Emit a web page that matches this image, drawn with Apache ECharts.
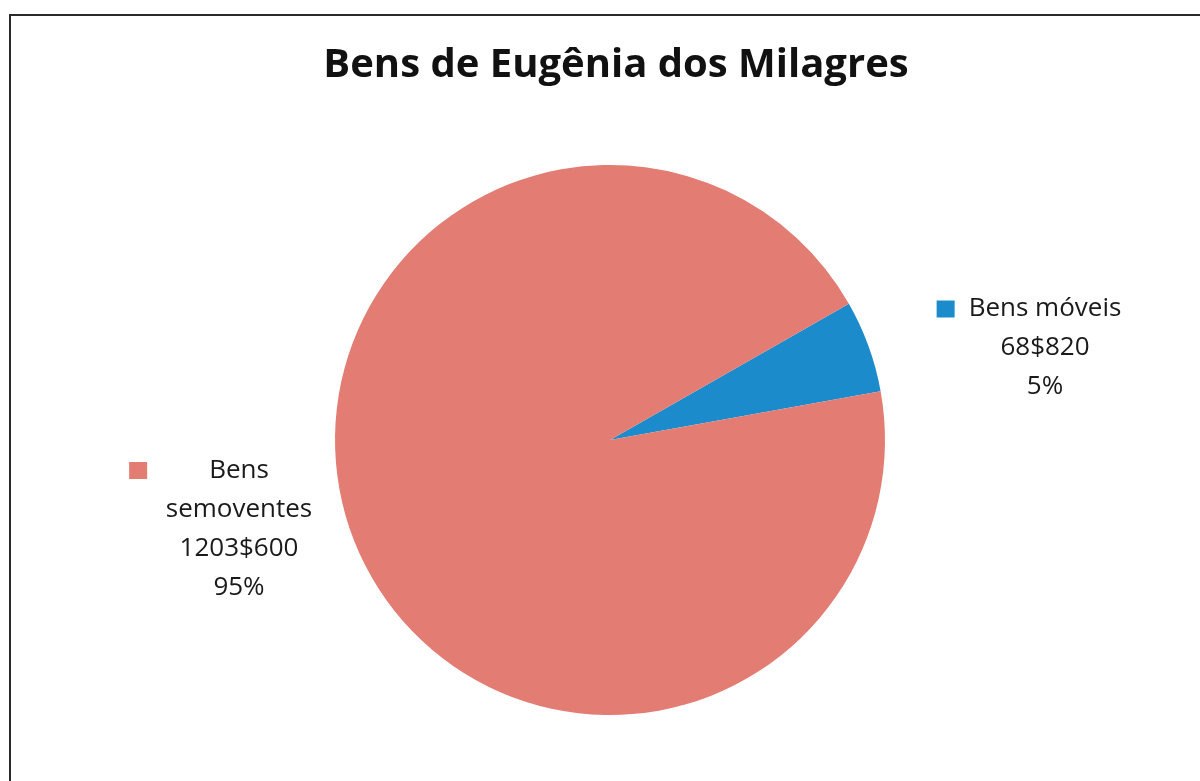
<!DOCTYPE html>
<html>
<head>
<meta charset="utf-8">
<style>
  html, body { margin: 0; padding: 0; background: #ffffff; }
  #chart { width: 1200px; height: 781px; }
</style>
<script src="https://cdn.jsdelivr.net/npm/echarts@6/dist/echarts.min.js"></script>
</head>
<body>
<div id="chart"></div>
<script>
// Asset categories and their values in réis (shown as 68$820 etc.)
const categories = ['Bens móveis', 'Bens semoventes'];
const valuesReis = [68820, 1203600];
const sliceColors = ['#1C8BCB', '#E37C73'];
const chartTitle = 'Bens de Eugênia dos Milagres';

const FONT = '"Open Sans", sans-serif';

// 1203600 -> "1203$600"
function formatReis(v) {
  const mil = Math.floor(v / 1000);
  const rest = String(v % 1000).padStart(3, '0');
  return mil + '$' + rest;
}

const chart = echarts.init(document.getElementById('chart'), null, { renderer: 'canvas' });

const labelRich = {
  t:   { fontFamily: FONT, fontSize: 26, color: '#1a1a1a', lineHeight: 39 },
  sqA: { width: 18, height: 17, backgroundColor: sliceColors[0], verticalAlign: 'middle' },
  sqB: { width: 18, height: 17, backgroundColor: sliceColors[1], verticalAlign: 'middle' },
  g14: { width: 14, lineHeight: 39 },
  p32: { width: 32, lineHeight: 39 },
  g62: { width: 62, lineHeight: 39 },
  p80: { width: 80, lineHeight: 39 }
};

chart.setOption({
  animation: false,
  backgroundColor: '#ffffff',
  title: {
    text: chartTitle,
    left: 611,
    textAlign: 'center',
    top: 41,
    textStyle: { fontFamily: FONT, fontWeight: 'bold', fontSize: 40, color: '#111111' }
  },
  graphic: [{
    type: 'rect',
    shape: { x: 10, y: 15, width: 1196, height: 770 },
    style: { fill: 'none', stroke: '#2a2a2a', lineWidth: 2 },
    silent: true
  }],
  series: [{
    type: 'pie',
    center: [610, 440],
    radius: [0, 275],
    startAngle: 29.7,
    clockwise: true,
    avoidLabelOverlap: false,
    itemStyle: { borderWidth: 0 },
    emphasis: { disabled: true },
    labelLine: { show: false },
    label: {
      show: true,
      position: 'outside',
      align: 'center',
      formatter: function (p) {
        const val = formatReis(p.value);
        const pct = Math.round(p.percent) + '%';
        if (p.dataIndex === 0) {
          return '{sqA| }{g14|}{t|' + p.name + '}{p32|}\n{t|' + val + '}\n{t|' + pct + '}';
        }
        const parts = p.name.split(' ');
        return '{sqB| }{g62|}{t|' + parts[0] + '}{p80|}\n{t|' + parts.slice(1).join(' ') +
          '}\n{t|' + val + '}\n{t|' + pct + '}';
      },
      rich: labelRich
    },
    labelLayout: function (params) {
      if (params.dataIndex === 0) {
        return { x: 1045, y: 348, align: 'center', verticalAlign: 'middle' };
      }
      return { x: 239, y: 529, align: 'center', verticalAlign: 'middle' };
    },
    data: categories.map(function (name, i) {
      return { name: name, value: valuesReis[i], itemStyle: { color: sliceColors[i] } };
    })
  }]
});
</script>
</body>
</html>
